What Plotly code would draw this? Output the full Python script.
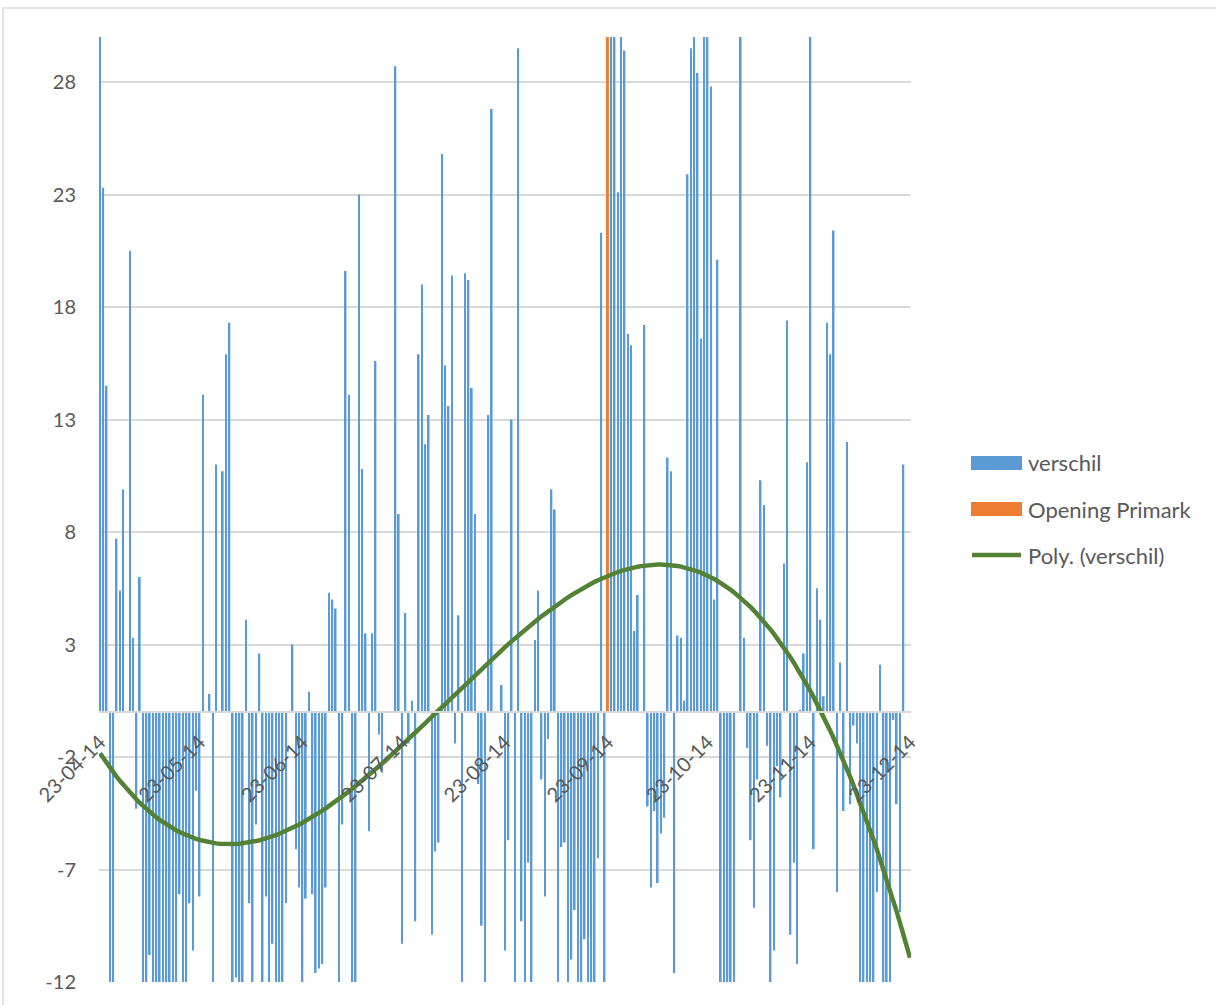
import numpy as np
import pandas as pd
import plotly.graph_objects as go

# Daily difference ("verschil"), 23 Apr 2014 - 23 Dec 2014, one list per month
verschil_apr = [31, 23.3, 14.5, -25, -25, 7.7, 5.4, 9.9]
verschil_may = [0, 20.5, 3.3, -4.3, 6.0, -18.5, -18.5, -10.8, -18.5, -18.5, -18.5, -18.5,
                -18.5, -18.5, -18.5, -18.5, -8.1, -18.5, -18.5, -8.5, -10.6, -3.5, -8.2, 14.1,
                0, 0.8, -18.5, 11.0, 0, 10.7, 15.9]
verschil_jun = [17.3, -18.5, -11.8, -18.5, -18.5, 4.1, -8.5, -18.5, -5.0, 2.6, -18.5, -8.2,
                -18.5, -10.3, -18.5, -18.5, -18.5, -8.5, 0, 3.0, -6.1, -7.8, -18.5, -8.3, 0.9,
                -8.1, -11.6, -11.4, -11.2, -7.8]
verschil_jul = [5.3, 5.0, 4.6, -18.5, -5.0, 19.6, 14.1, -18.5, -18.5, 23.0, 10.8, 3.5, -5.3,
                3.5, 15.6, -1.0, -2.7, 0, 0, 0, 28.7, 8.8, -10.3, 4.4, -1.4, 0.5, -9.3, 15.9,
                19.0, 11.9, 13.2]
verschil_aug = [-9.9, -6.2, -5.8, 24.8, 15.4, 13.6, 19.4, -1.4, 4.3, -18.5, 19.5, 19.2, 14.4,
                8.8, -3.2, -9.5, -18.5, 13.2, 26.8, 0, 0, 1.2, -10.6, -5.7, 13.0, -18.5, 29.5,
                -9.3, -18.5, -6.7, -18.5]
verschil_sep = [3.2, 5.4, -3.0, -8.2, -1.2, 9.9, 9.0, -18.5, -6.0, -5.8, -18.5, -11.0, -8.8,
                -18.5, -18.5, -10.1, -18.5, -18.5, -18.5, -6.5, 21.3, -18.5, 0, 48, 48, 23.1,
                48, 29.4, 16.8, 16.3]
verschil_oct = [3.6, 5.2, 0, 17.2, -4.2, -7.8, -4.4, -7.6, -5.4, -4.7, 11.3, 10.7, -11.6, 3.4,
                3.3, 0.5, 23.9, 29.5, 48, 28.4, 16.6, 48, 48, 27.8, 5.0, 20.1, -18.5, -18.5,
                -18.5, -18.5, -18.5]
verschil_nov = [0, 48, 3.3, -1.6, -5.7, -8.7, -3.0, 10.3, 9.2, -1.5, -18.5, -10.6, -2.4, -3.8,
                6.6, 17.4, -9.9, -6.7, -11.2, 0.1, 2.6, 11.1, 48, -6.1, 5.5, 4.1, 0.7, 17.3,
                15.9, 21.4]
verschil_dec = [-8.0, 2.2, -4.4, 12.0, -4.1, -0.6, -1.4, -23, -23, -23, -23, -23, -8.0, 2.1,
                -23, -23, -23, -0.35, -4.1, -8.9, 11.0, 0, 0]

primark_dates = ["2014-09-23"]
primark_values = [48]

tick_dates = ["2014-04-23", "2014-05-23", "2014-06-23", "2014-07-23", "2014-08-23",
              "2014-09-23", "2014-10-23", "2014-11-23", "2014-12-23"]
y_ticks = [-12, -7, -2, 3, 8, 13, 18, 23, 28]

verschil = (verschil_apr + verschil_may + verschil_jun + verschil_jul + verschil_aug
            + verschil_sep + verschil_oct + verschil_nov + verschil_dec)
dates = pd.date_range("2014-04-23", periods=len(verschil), freq="D")

# Third-order polynomial trendline over the daily series
t = np.arange(len(verschil), dtype=float)
coef = np.polyfit(t, np.array(verschil, dtype=float), 3)
trend = np.polyval(coef, t)

BLUE = "#5B9BD5"
ORANGE = "#ED7D31"
GREEN = "#548235"
GRID = "#D9D9D9"
TEXT = "#595959"
FONT = "Lato, Carlito, Calibri, sans-serif"

W, H = 1216, 1005
L, R, T, B = 99, 305, 37, 23
PW, PH = W - L - R, H - T - B


def px(x):
    return (x - L) / PW


def py(y):
    return (H - B - y) / PH


day = 86400000
fig = go.Figure()
fig.add_trace(go.Bar(x=dates, y=verschil, name="verschil", marker_color=BLUE,
                     marker_line_width=0, width=0.5 * day, showlegend=False))
fig.add_trace(go.Bar(x=pd.to_datetime(primark_dates), y=primark_values, name="Opening Primark",
                     marker_color=ORANGE, marker_line_width=0, width=0.6 * day,
                     showlegend=False))
fig.add_trace(go.Scatter(x=dates, y=trend, mode="lines", name="Poly. (verschil)",
                         line=dict(color=GREEN, width=4.5), showlegend=False))

x0 = dates[0] - pd.Timedelta(hours=7)
x1 = dates[-1] + pd.Timedelta(hours=7)
y_min, y_max = -12, 30

fig.update_layout(
    width=W, height=H,
    margin=dict(l=L, r=R, t=T, b=B),
    paper_bgcolor="white", plot_bgcolor="white",
    barmode="overlay",
    font=dict(family=FONT, size=20, color=TEXT),
    xaxis=dict(type="date", range=[x0, x1], anchor="free",
               position=(0 - y_min) / (y_max - y_min),
               tickvals=pd.to_datetime(tick_dates), tickformat="%d-%m-%y",
               tickangle=-45, showgrid=False, zeroline=False,
               showline=True, linecolor=GRID, linewidth=1.5,
               ticks="outside", ticklen=10, tickcolor="rgba(0,0,0,0)",
               tickfont=dict(family=FONT, size=20, color=TEXT)),
    yaxis=dict(range=[y_min, y_max], tickvals=y_ticks, ticktext=[str(v) for v in y_ticks],
               showgrid=True, gridcolor=GRID, gridwidth=1.5, zeroline=False, showline=False,
               ticks="outside", ticklen=18, tickcolor="rgba(0,0,0,0)",
               tickfont=dict(family=FONT, size=20, color=TEXT)),
)

# Chart-area border (runs off the right and bottom edges)
fig.add_shape(type="rect", xref="paper", yref="paper",
              x0=px(3), x1=px(1230), y0=py(1020), y1=py(8),
              line=dict(color=GRID, width=1.5), fillcolor="rgba(0,0,0,0)", layer="below")

# Legend
legend_items = [("verschil", BLUE, "box", 463), ("Opening Primark", ORANGE, "box", 509),
                ("Poly. (verschil)", GREEN, "line", 555)]
for label, color, kind, yc in legend_items:
    if kind == "box":
        fig.add_shape(type="rect", xref="paper", yref="paper",
                      x0=px(971), x1=px(1022), y0=py(yc + 7), y1=py(yc - 7),
                      line=dict(width=0), fillcolor=color)
    else:
        fig.add_shape(type="line", xref="paper", yref="paper",
                      x0=px(972), x1=px(1021), y0=py(yc), y1=py(yc),
                      line=dict(color=color, width=4.5))
    fig.add_annotation(text=label, xref="paper", yref="paper", x=px(1026), y=py(yc),
                       xanchor="left", yanchor="middle", showarrow=False,
                       font=dict(family=FONT, size=22, color=TEXT))

fig.write_html("out.html")
